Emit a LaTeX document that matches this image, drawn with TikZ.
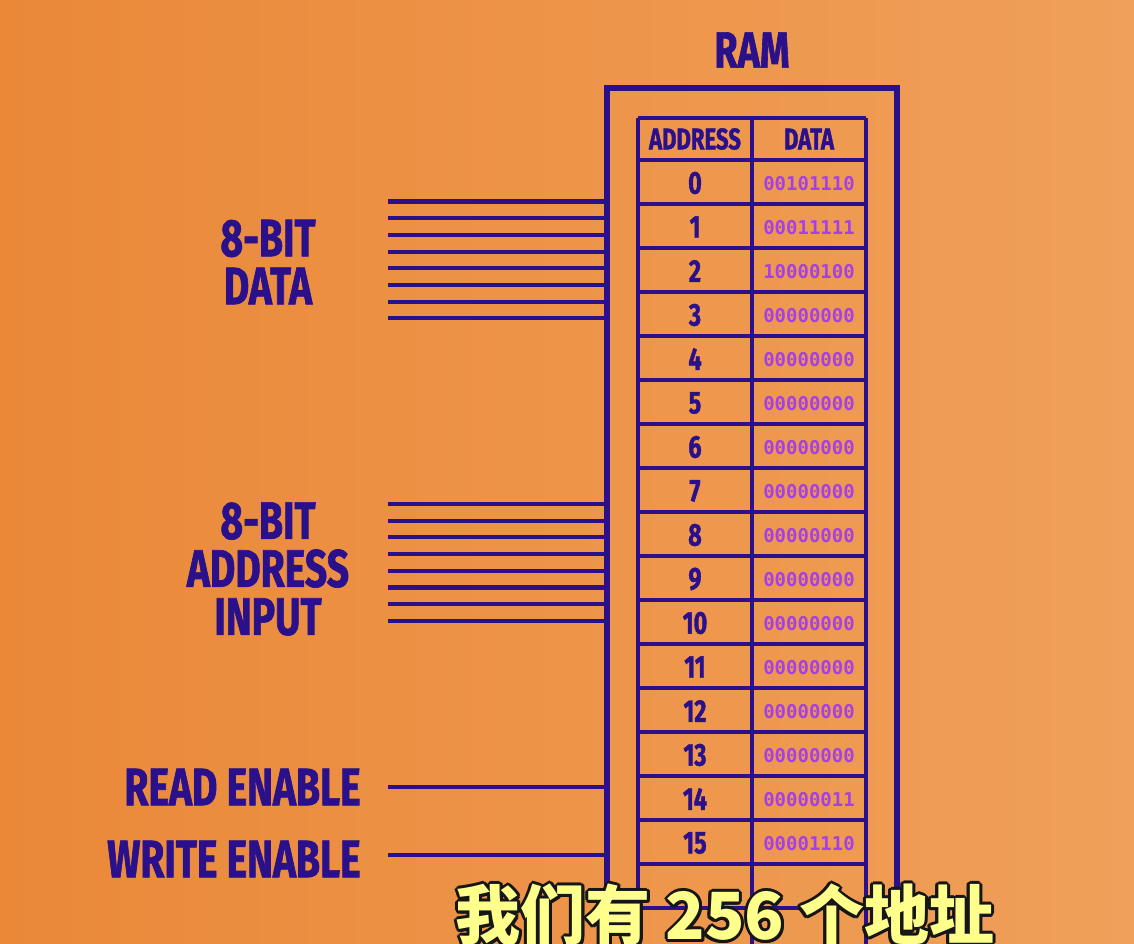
\documentclass[tikz,border=0pt]{standalone}
\usepackage{fontspec}
\usepackage{tikz}
\usetikzlibrary{positioning, calc}
\setmainfont{Fira Sans}
\newfontfamily\headfont[FakeStretch=0.74, FakeBold=1.2]{Fira Sans}
\newfontfamily\bitfont{DejaVu Sans Mono}
\newfontfamily\cjk{Noto Sans CJK SC}

\definecolor{ink}{HTML}{2B108C}
\definecolor{bits}{HTML}{A53FE6}
\definecolor{bgleft}{HTML}{EA8838}
\definecolor{bgright}{HTML}{F0A05A}
\definecolor{subyellow}{HTML}{FFFF8C}
\definecolor{subedge}{HTML}{161616}

\begin{document}
\begin{tikzpicture}[
    x=0.02cm, y=-0.02cm,
    wire/.style={draw=ink, line width=2.3pt},
    frame/.style={draw=ink, line width=3.2pt},
    grid/.style={draw=ink, line width=2.4pt},
    sidetext/.style={text=ink, inner sep=0pt, font=\headfont\bfseries\fontsize{30pt}{27.3pt}\selectfont, align=center},
    headtext/.style={text=ink, inner sep=0pt, font=\headfont\bfseries\fontsize{17pt}{17pt}\selectfont},
    rownum/.style={text=ink, inner sep=0pt, font=\headfont\bfseries\fontsize{18pt}{18pt}\selectfont},
    rowval/.style={text=bits, inner sep=0pt, font=\bitfont\bfseries\fontsize{10.8pt}{11pt}\selectfont},
    subtitle/.style={inner sep=0pt, font=\cjk\bfseries\fontsize{37pt}{37pt}\selectfont}
]

% background
\clip (0,0) rectangle (1134,944);
\shade[left color=bgleft, right color=bgright] (0,0) rectangle (1134,944);

% RAM frame and table
\node[text=ink, inner sep=0pt, font=\headfont\bfseries\fontsize{29pt}{29pt}\selectfont] (ramtitle) at (752,50) {RAM};
\coordinate (ramtl) at (607,88);
\coordinate (ramtr) at (897,88);
\draw[frame] (607,1000) -- (ramtl) -- (ramtr) -- (897,1000);
\foreach \x in {638,752,866}
    \draw[grid] (\x,118) -- (\x,1000);
\draw[grid] (638,118) -- (866,118);
\foreach \k in {0,...,18}
    \draw[grid] (638,160+44*\k) -- (866,160+44*\k);

\node[headtext] (haddr) at (695,139) {ADDRESS};
\node[headtext] (hdata) at (809,139) {DATA};

\foreach \i/\v in {0/00101110, 1/00011111, 2/10000100, 3/00000000, 4/00000000,
                   5/00000000, 6/00000000, 7/00000000, 8/00000000, 9/00000000,
                   10/00000000, 11/00000000, 12/00000000, 13/00000000,
                   14/00000011, 15/00001110} {
    \node[rownum] (a\i) at (695,183+44*\i) {\i};
    \node[rowval] (v\i) at (809,184+44*\i) {\v};
}

% inputs
\node[sidetext] (datalbl) at (268,262) {8-BIT\\DATA};
\node[sidetext] (addrlbl) at (268,569) {8-BIT\\ADDRESS\\INPUT};
\node[sidetext, anchor=east] (readlbl) at (361,787) {READ ENABLE};
\node[sidetext, anchor=east] (writelbl) at (361,859) {WRITE ENABLE};

\foreach \k in {0,...,7} {
    \coordinate (d\k) at (388,201.5+16.7*\k);
    \draw[wire] (d\k) -- (d\k -| ramtl);
    \coordinate (ad\k) at (388,504+16.7*\k);
    \draw[wire] (ad\k) -- (ad\k -| ramtl);
}
\coordinate (re) at (388,787);
\coordinate (we) at (388,855);
\draw[wire] (re) -- (re -| ramtl);
\draw[wire] (we) -- (we -| ramtl);

% subtitle
\foreach \a in {0,30,...,330}
    \node[subtitle, text=subedge] at ($(725,915)+(\a:3)$) {我们有 256 个地址};
\node[subtitle, text=subyellow] (sub) at (725,915) {我们有 256 个地址};

\end{tikzpicture}
\end{document}
